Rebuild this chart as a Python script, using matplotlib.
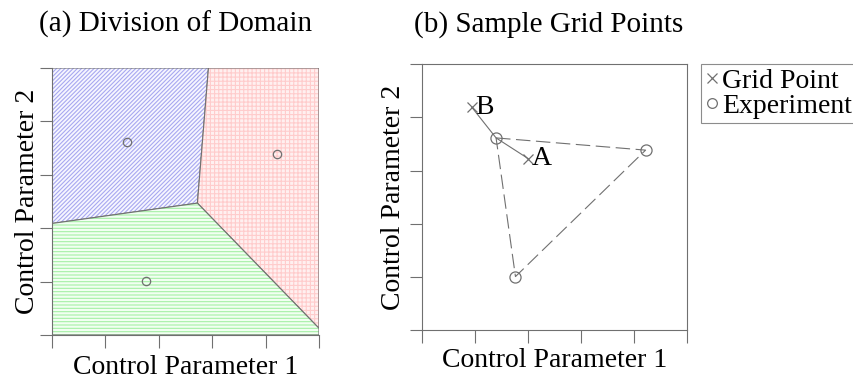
import numpy as np
import matplotlib.pyplot as plt
from matplotlib.lines import Line2D

plt.rcParams['font.family'] = ['Liberation Serif', 'DejaVu Serif']
plt.rcParams['hatch.linewidth'] = 0.8

# experiment locations (same in both panels)
exp_x = [0.280, 0.843, 0.353]
exp_y = [0.723, 0.677, 0.201]
# grid points
grid_names = ['B', 'A']
grid_x = [0.189, 0.401]
grid_y = [0.838, 0.645]

region_face = ['#f6f6ff', '#fff0f0', '#f2fff2']
region_hatch = ['#a8a8f0', '#ffcccc', '#a6f0a6']
region_pattern = ['////////', '++++', '-----']

grey = '#707070'


def clip(poly, a, b, c):
    # keep part of polygon where a*x + b*y <= c
    out = []
    n = len(poly)
    for k in range(n):
        p = poly[k]
        q = poly[(k + 1) % n]
        fp = a * p[0] + b * p[1] - c
        fq = a * q[0] + b * q[1] - c
        if fp <= 0:
            out.append(p)
        if fp * fq < 0:
            t = fp / (fp - fq)
            out.append((p[0] + t * (q[0] - p[0]), p[1] + t * (q[1] - p[1])))
    return out


def cell(i):
    poly = [(0, 0), (1, 0), (1, 1), (0, 1)]
    pi = np.array([exp_x[i], exp_y[i]])
    for j in range(len(exp_x)):
        if j == i:
            continue
        pj = np.array([exp_x[j], exp_y[j]])
        d = pj - pi
        poly = clip(poly, d[0], d[1], (pj @ pj - pi @ pi) / 2)
    return poly


fig = plt.figure(figsize=(8.54, 3.79), dpi=100)

# (a) division of domain
ax1 = fig.add_axes([0.0609, 0.1161, 0.3126, 0.7045])
for i in range(len(exp_x)):
    poly = np.array(cell(i))
    ax1.fill(poly[:, 0], poly[:, 1], facecolor=region_face[i],
             edgecolor=region_hatch[i], hatch=region_pattern[i], linewidth=0)
    ax1.fill(poly[:, 0], poly[:, 1], facecolor='none', edgecolor=grey, linewidth=0.8)
ax1.plot(exp_x, exp_y, 'o', mfc='none', mec=grey, ms=6, mew=0.9)
ax1.set_xlim(0, 1)
ax1.set_ylim(0, 1)
for s in ['top', 'right']:
    ax1.spines[s].set_visible(False)
for s in ['left', 'bottom']:
    ax1.spines[s].set_color(grey)
ax1.set_xticks(np.linspace(0, 1, 6))
ax1.set_yticks(np.linspace(0, 1, 6))
ax1.tick_params(length=9, color=grey, labelbottom=False, labelleft=False)
ax1.set_xlabel('Control Parameter 1', fontsize=20, labelpad=5.5)
ax1.set_ylabel('Control Parameter 2', fontsize=20, labelpad=0)

# (b) sample grid points
ax2 = fig.add_axes([0.4938, 0.1293, 0.311, 0.701])
ex = exp_x + [exp_x[0]]
ey = exp_y + [exp_y[0]]
ax2.plot(ex, ey, color=grey, lw=0.8, dashes=(13, 5))
ax2.plot([grid_x[0], exp_x[0], grid_x[1]], [grid_y[0], exp_y[0], grid_y[1]],
         color=grey, lw=0.8)
ax2.plot(exp_x, exp_y, 'o', mfc='none', mec=grey, ms=8, mew=0.9)
ax2.plot(grid_x, grid_y, 'x', color=grey, ms=7, mew=0.9)
for name, gx, gy in zip(grid_names, grid_x, grid_y):
    ax2.text(gx + 0.012, gy, name, fontsize=20, va='center', ha='left')
ax2.set_xlim(0, 1)
ax2.set_ylim(0, 1)
for s in ax2.spines.values():
    s.set_color(grey)
ax2.set_xticks(np.linspace(0, 1, 6))
ax2.set_yticks(np.linspace(0, 1, 6))
ax2.tick_params(length=9, color=grey, labelbottom=False, labelleft=False)
ax2.set_xlabel('Control Parameter 1', fontsize=20, labelpad=4)
ax2.set_ylabel('Control Parameter 2', fontsize=20, labelpad=2)

handles = [Line2D([], [], ls='none', marker='x', color=grey, ms=7, mew=0.9),
           Line2D([], [], ls='none', marker='o', mfc='none', mec=grey, ms=7, mew=0.9)]
leg = fig.legend(handles, ['Grid Point', 'Experiment'], loc='upper left',
                 bbox_to_anchor=(0.821, 0.831), fontsize=20, frameon=True,
                 fancybox=False, handlelength=0.5, handletextpad=0.1,
                 borderpad=0.15, labelspacing=0.0, borderaxespad=0)
leg.get_frame().set_edgecolor(grey)
leg.get_frame().set_linewidth(0.8)

fig.text(0.205, 0.935, '(a) Division of Domain', fontsize=21, ha='center', va='center')
fig.text(0.643, 0.935, '(b) Sample Grid Points', fontsize=21, ha='center', va='center')

fig.savefig('out.png', dpi=100)
